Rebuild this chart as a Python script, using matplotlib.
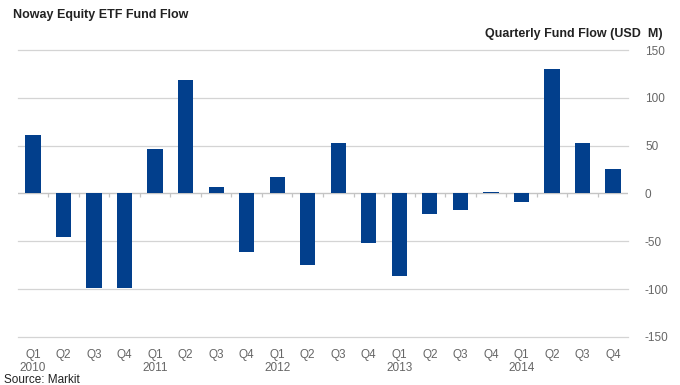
import matplotlib
matplotlib.use("Agg")
import matplotlib.pyplot as plt
import numpy as np

plt.rcParams['font.family'] = ['Liberation Sans', 'DejaVu Sans']

quarters = ['Q1', 'Q2', 'Q3', 'Q4'] * 5
years = ['2010', '2011', '2012', '2013', '2014']
flows = [61, -46, -99, -99, 46, 119, 6.5, -61, 17.5, -75,
         53, -52, -86, -21, -17, 1.5, -9, 130, 53, 26]
yticks = [-150, -100, -50, 0, 50, 100, 150]

labels = []
for i, q in enumerate(quarters):
    if q == 'Q1':
        labels.append(q + '\n' + years[i // 4])
    else:
        labels.append(q)

fig = plt.figure(figsize=(6.8, 3.85), dpi=100)
ax = fig.add_axes([0.026, 0.125, 0.898, 0.745])

x = np.arange(len(flows))
ax.bar(x, flows, width=0.5, color='#023F8C', zorder=3)

ax.set_xlim(-0.5, len(flows) - 0.5)
ax.set_ylim(-150, 150)
for v in yticks:
    if v != 0:
        ax.axhline(v, color='#d4d4d4', lw=0.9, zorder=1, clip_on=False)
ax.axhline(0, color='#c4c4c4', lw=1.0, zorder=2)
ax.vlines(x[:-1] + 0.5, -4, 0, color='#c4c4c4', lw=0.9, zorder=2)

ax.yaxis.tick_right()
ax.set_yticks(yticks)
ax.set_yticklabels([str(v) for v in yticks])
ax.tick_params(axis='y', length=0, pad=12, labelsize=8.5, colors='#666666')
ax.set_xticks(x)
ax.set_xticklabels(labels, linespacing=1.05)
ax.tick_params(axis='x', length=0, pad=9, labelsize=8.5, colors='#666666')
for s in ax.spines.values():
    s.set_visible(False)

fig.text(0.019, 0.962, 'Noway Equity ETF Fund Flow', fontsize=9, fontweight='bold',
         color='#222222', va='center', ha='left')
fig.text(0.974, 0.912, 'Quarterly Fund Flow (USD  M)', fontsize=9, fontweight='bold',
         color='#222222', va='center', ha='right')
fig.text(0.006, 0.014, 'Source: Markit', fontsize=8.5, color='#222222',
         va='center', ha='left')

fig.savefig('out.png', dpi=100)
